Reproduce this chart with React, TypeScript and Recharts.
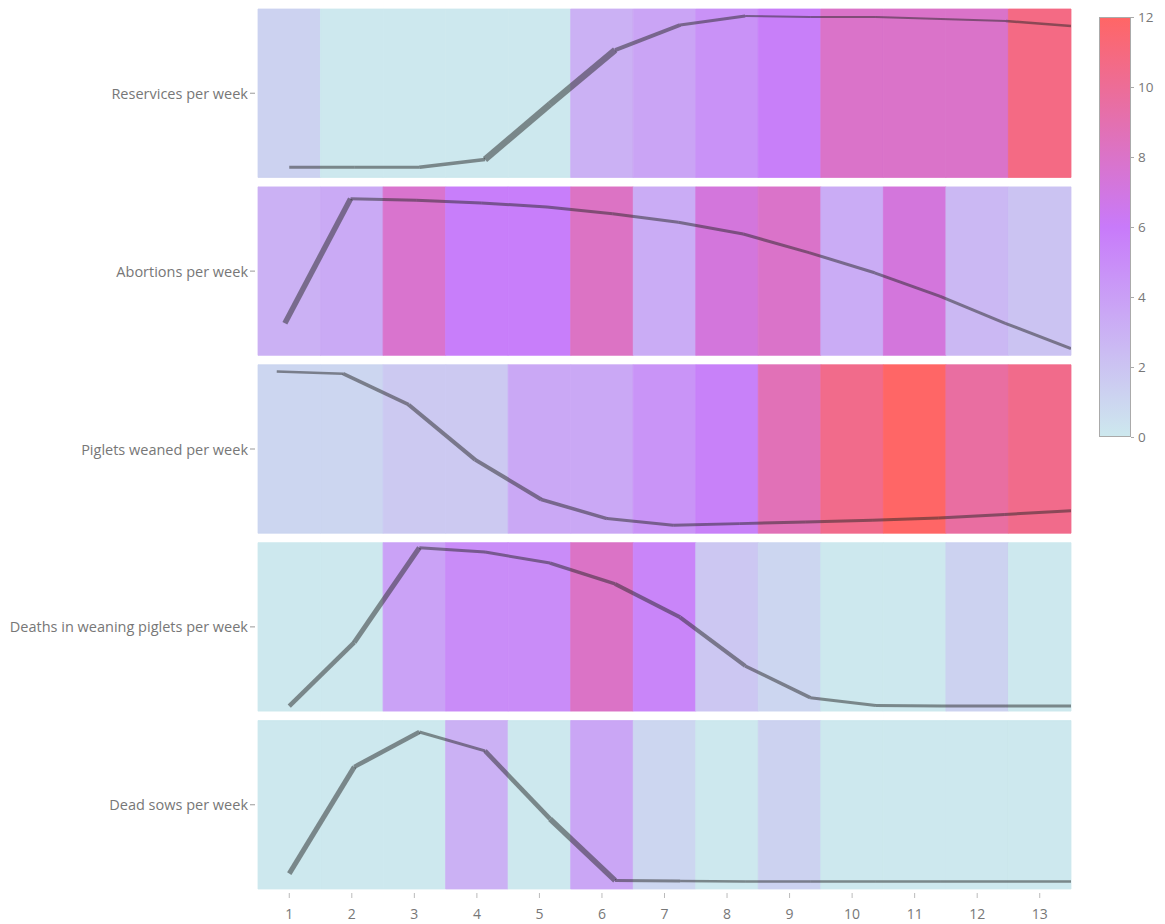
import { ComposedChart, XAxis, YAxis, Line, ReferenceArea } from "recharts";

// rows, top to bottom
const ROW_LABELS = [
  "Reservices per week",
  "Abortions per week",
  "Piglets weaned per week",
  "Deaths in weaning piglets per week",
  "Dead sows per week",
];

const WEEKS = [1, 2, 3, 4, 5, 6, 7, 8, 9, 10, 11, 12, 13];

// heat cell values per week (colour scale 0..12)
const RESERVICES_CELLS = [1.2, 0, 0, 0, 0, 3, 3.7, 4.7, 5.7, 8, 8, 8, 10.8];
const ABORTIONS_CELLS = [3, 3.4, 7.8, 5.8, 5.8, 8.2, 3.3, 7.2, 8, 3.3, 7.2, 2.6, 2];
const WEANED_CELLS = [1, 1, 1.7, 1.7, 3.5, 3.5, 4.6, 5.6, 8.7, 10.5, 12, 9.6, 10.5];
const DEATHS_CELLS = [0, 0, 3.8, 5, 5, 8.1, 5.4, 1.8, 1, 0, 0, 1.2, 0];
const DEAD_SOWS_CELLS = [0, 0, 0, 3, 0, 3.6, 1, 0, 1.2, 0, 0, 0, 0];

// trend lines, share of row height
const LINE_X = [1.0, 2.04, 3.08, 4.13, 5.17, 6.21, 7.25, 8.29, 9.33, 10.38, 11.42, 12.46, 13.5];
const LINE_X_ABORTIONS = [0.93, 1.98, 3.03, 4.07, 5.12, 6.17, 7.22, 8.26, 9.31, 10.36, 11.41, 12.45, 13.5];
const LINE_X_WEANED = [0.8, 1.86, 2.91, 3.97, 5.03, 6.08, 7.14, 8.2, 9.26, 10.32, 11.38, 12.44, 13.5];
const RESERVICES_LINE = [0.06, 0.06, 0.06, 0.107, 0.435, 0.756, 0.905, 0.958, 0.952, 0.952, 0.94, 0.929, 0.899];
const ABORTIONS_LINE = [0.19, 0.93, 0.92, 0.905, 0.88, 0.84, 0.79, 0.72, 0.61, 0.49, 0.35, 0.19, 0.04];
const WEANED_LINE = [0.96, 0.947, 0.763, 0.437, 0.2, 0.087, 0.047, 0.057, 0.067, 0.077, 0.091, 0.111, 0.134];
const DEATHS_LINE = [0.03, 0.408, 0.97, 0.944, 0.879, 0.755, 0.557, 0.268, 0.08, 0.034, 0.03, 0.03, 0.03];
const DEAD_SOWS_LINE = [0.091, 0.725, 0.932, 0.82, 0.416, 0.051, 0.047, 0.045, 0.045, 0.045, 0.045, 0.045, 0.045];

// stroke width of each segment
const RESERVICES_WIDTH = [3, 3, 3.5, 6.5, 6.5, 4, 3, 2, 2, 2, 2, 2.5];
const ABORTIONS_WIDTH = [5.5, 3, 3, 3, 3, 3, 3, 3, 3, 3, 3, 3];
const WEANED_WIDTH = [2.5, 3.5, 4, 4, 3.5, 3, 3, 3, 3, 3, 3, 3];
const DEATHS_WIDTH = [4.5, 5, 3, 3, 3.5, 4, 4, 3.5, 3, 3, 3, 3];
const DEAD_SOWS_WIDTH = [5, 4.5, 3, 4.5, 5.5, 3, 2.5, 2.5, 2.5, 2.5, 2.5, 2.5];

const COLORBAR_TICKS = [0, 2, 4, 6, 8, 10, 12];

const ROWS = [
  { cells: RESERVICES_CELLS, x: LINE_X, line: RESERVICES_LINE, width: RESERVICES_WIDTH },
  { cells: ABORTIONS_CELLS, x: LINE_X_ABORTIONS, line: ABORTIONS_LINE, width: ABORTIONS_WIDTH },
  { cells: WEANED_CELLS, x: LINE_X_WEANED, line: WEANED_LINE, width: WEANED_WIDTH },
  { cells: DEATHS_CELLS, x: LINE_X, line: DEATHS_LINE, width: DEATHS_WIDTH },
  { cells: DEAD_SOWS_CELLS, x: LINE_X, line: DEAD_SOWS_LINE, width: DEAD_SOWS_WIDTH },
];

const GAP = 0.056;
const rowBase = (i: number) => (ROWS.length - 1 - i) * (1 + GAP);
const Y_MAX = ROWS.length + (ROWS.length - 1) * GAP;
const ROW_CENTERS = ROWS.map((_, i) => rowBase(i) + 0.5);

const STOPS: [number, number[]][] = [
  [0, [205, 232, 238]],
  [6, [200, 122, 250]],
  [12, [255, 102, 102]],
];

function colorFor(v: number) {
  for (let i = 0; i < STOPS.length - 1; i++) {
    const [a, ca] = STOPS[i];
    const [b, cb] = STOPS[i + 1];
    if (v <= b) {
      const t = (v - a) / (b - a);
      const c = ca.map((x, k) => Math.round(x + (cb[k] - x) * t));
      return `rgb(${c[0]},${c[1]},${c[2]})`;
    }
  }
  const c = STOPS[STOPS.length - 1][1];
  return `rgb(${c[0]},${c[1]},${c[2]})`;
}

const FONT = "'Open Sans', 'DejaVu Sans', sans-serif";
const TEXT = "#777";

const YTick = (props: any) => {
  const { x, y, payload } = props;
  const idx = ROW_CENTERS.findIndex((c) => Math.abs(c - payload.value) < 1e-6);
  return (
    <g>
      <line x1={x - 8} x2={x - 3} y1={y} y2={y} stroke="#999" strokeWidth={1} />
      <text x={x - 10} y={y} textAnchor="end" dominantBaseline="central" fontSize={14.5} fill={TEXT} fontFamily={FONT}>
        {ROW_LABELS[idx]}
      </text>
    </g>
  );
};

const XTick = (props: any) => {
  const { x, y, payload } = props;
  return (
    <g>
      <line x1={x} x2={x} y1={y + 4} y2={y + 9} stroke="#bbb" strokeWidth={1} />
      <text x={x} y={y + 30} textAnchor="middle" fontSize={14} fill={TEXT} fontFamily={FONT}>
        {payload.value}
      </text>
    </g>
  );
};

export default function App() {
  return (
    <div style={{ position: "absolute", left: 0, top: 0, width: 1165, height: 924, background: "#fff" }}>
      <ComposedChart width={1165} height={924} margin={{ top: 9, right: 94, bottom: 5, left: 8 }}>
        <XAxis
          type="number"
          dataKey="x"
          domain={[0.5, 13.5]}
          ticks={WEEKS}
          interval={0}
          allowDataOverflow
          axisLine={false}
          tickLine={false}
          tickSize={0}
          tickMargin={0}
          height={30}
          tick={XTick}
        />
        <YAxis
          type="number"
          dataKey="y"
          domain={[0, Y_MAX]}
          ticks={ROW_CENTERS}
          interval={0}
          allowDataOverflow
          axisLine={false}
          tickLine={false}
          tickSize={0}
          tickMargin={0}
          width={250}
          tick={YTick}
        />
        {ROWS.map((row, r) =>
          row.cells.map((v, c) => (
            <ReferenceArea
              key={`cell-${r}-${c}`}
              x1={WEEKS[c] - 0.5}
              x2={WEEKS[c] + 0.5}
              y1={rowBase(r)}
              y2={rowBase(r) + 1}
              fill={colorFor(v)}
              fillOpacity={1}
              stroke={colorFor(v)}
              strokeWidth={0.8}
              ifOverflow="visible"
            />
          ))
        )}
        {ROWS.map((row, r) =>
          row.width.map((w, k) => (
            <Line
              key={`seg-${r}-${k}`}
              data={[
                { x: row.x[k], y: rowBase(r) + row.line[k] },
                { x: row.x[k + 1], y: rowBase(r) + row.line[k + 1] },
              ]}
              dataKey="y"
              type="linear"
              stroke="#262626"
              strokeOpacity={0.5}
              strokeWidth={w}
              strokeLinecap="butt"
              dot={false}
              activeDot={false}
              legendType="none"
              isAnimationActive={false}
            />
          ))
        )}
      </ComposedChart>
      {/* colour bar */}
      <div
        style={{
          position: "absolute",
          left: 1099,
          top: 17,
          width: 32,
          height: 420,
          border: "1px solid #aaa",
          boxSizing: "border-box",
          background: `linear-gradient(to top, ${colorFor(0)}, ${colorFor(6)}, ${colorFor(12)})`,
        }}
      />
      {COLORBAR_TICKS.map((t) => (
        <div
          key={t}
          style={{
            position: "absolute",
            left: 1131,
            top: 17 + ((12 - t) / 12) * 420 - 9,
            height: 18,
            display: "flex",
            alignItems: "center",
            fontFamily: FONT,
            fontSize: 13.5,
            color: TEXT,
          }}
        >
          <span style={{ display: "inline-block", width: 3, height: 1, background: "#aaa", marginRight: 4 }} />
          {t}
        </div>
      ))}
    </div>
  );
}
